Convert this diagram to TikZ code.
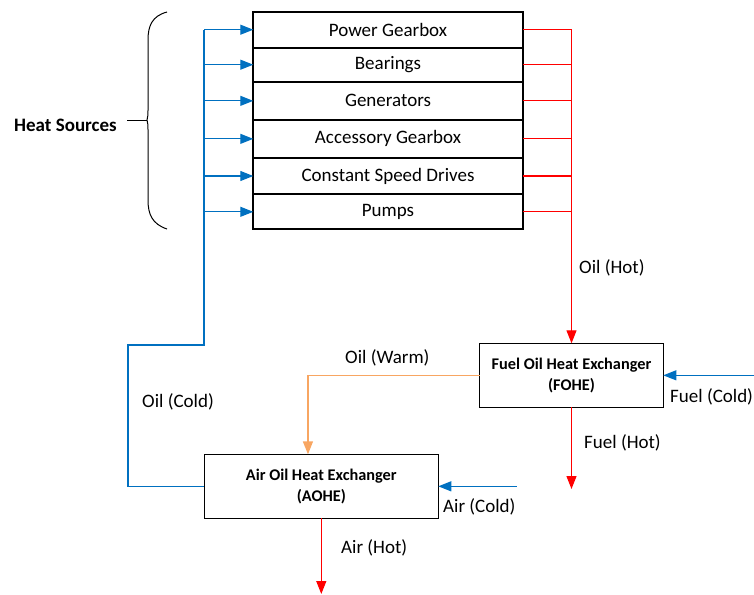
\documentclass[tikz,border=0pt]{standalone}
\usepackage{fontspec}
\setmainfont{Carlito}
\usetikzlibrary{arrows.meta,calc}
\definecolor{cblue}{RGB}{0,112,192}
\definecolor{cred}{RGB}{255,0,0}
\definecolor{corange}{RGB}{248,166,98}
\begin{document}
\begin{tikzpicture}[x=1pt,y=-1pt,
  rowbox/.style={draw=black,line width=2pt,minimum width=269.4pt,anchor=north west,inner sep=0pt,outer sep=0pt,font=\fontsize{19}{22}\selectfont},
  hxbox/.style={draw=black,line width=1pt,align=center,inner sep=0pt,outer sep=0pt,font=\fontsize{16.3}{21}\selectfont\bfseries},
  lbl/.style={anchor=west,inner sep=0pt,font=\fontsize{19}{22}\selectfont},
  tip/.style={-{Triangle[length=13pt,width=10pt]}},
  bl/.style={draw=cblue,line width=1.2pt},
  rd/.style={draw=cred,line width=1.2pt},
  og/.style={draw=corange,line width=1.5pt}]
\useasboundingbox (0,0) rectangle (754,594);
% heat source stack
\node[rowbox,minimum height=36pt] (r1) at (253.3,11.7) {Power Gearbox};
\node[rowbox,minimum height=34pt] (r2) at (r1.south west) {Bearings};
\node[rowbox,minimum height=38.3pt] (r3) at (r2.south west) {Generators};
\node[rowbox,minimum height=37.7pt] (r4) at (r3.south west) {Accessory Gearbox};
\node[rowbox,minimum height=36.6pt] (r5) at (r4.south west) {Constant Speed Drives};
\node[rowbox,minimum height=35pt] (r6) at (r5.south west) {Pumps};
% heat exchangers
\node[hxbox,minimum width=183.6pt,minimum height=64pt] (fohe) at (571.5,375.3) {Fuel Oil Heat Exchanger\\(FOHE)};
\node[hxbox,minimum width=234pt,minimum height=64pt] (aohe) at (321.3,486.3) {Air Oil Heat Exchanger\\(AOHE)};
% brace and heat sources label
\node[anchor=west,inner sep=0pt,font=\fontsize{19}{22}\selectfont\bfseries] (hs) at (14,125) {Heat Sources};
\coordinate (btop) at (167,12);
\coordinate (bbot) at (167,229);
\coordinate (btip) at (147,120);
\draw[line width=1pt] (btop) .. controls (152,16) and (148,26) .. (148,40)
  -- (148,108) .. controls (148,116) .. (btip)
  .. controls (148,124) .. (148,132) -- (148,200)
  .. controls (148,214) and (152,224) .. (bbot);
\draw[line width=1pt] (127,120) -- (btip);
% blue trunk and inlets
\coordinate (bt) at (204,0);
\coordinate (rt) at (571.5,0);
\foreach \r in {r1,r2,r3,r4,r5,r6}{
  \draw[bl,tip] (\r.west -| bt) -- (\r.west);
  \draw[rd] (\r.east) -- (\r.east -| rt);
}
\coordinate (b1) at (204,345);
\coordinate (b2) at (128,345);
\coordinate (b3) at (128,486.3);
\draw[bl] (r1.west -| bt) -- (b1) -- (b2) -- (b3) -- (aohe.west);
% red trunk to FOHE
\draw[rd,tip] (r1.east -| rt) -- (fohe.north);
% fuel
\coordinate (fc) at (754,375.3);
\draw[bl,tip] (fc) -- (fohe.east);
\coordinate (fh) at (571.5,489);
\draw[rd,tip] (fohe.south) -- (fh);
% oil warm
\coordinate (ow) at ($(aohe.north west)!0.443!(aohe.north east)$);
\draw[og,tip] (fohe.west) -| (ow);
% air
\coordinate (ac) at (516.7,486.3);
\draw[bl,tip] (ac) -- (aohe.east);
\coordinate (ah) at (321.3,594);
\draw[rd,tip] (aohe.south) -- (ah);
% labels
\node[lbl] (l1) at (579,268) {Oil (Hot)};
\node[lbl] (l2) at (584,443) {Fuel (Hot)};
\node[lbl] (l3) at (670,397) {Fuel (Cold)};
\node[lbl] (l4) at (345,358) {Oil (Warm)};
\node[lbl] (l5) at (142,402) {Oil (Cold)};
\node[lbl] (l6) at (443,507) {Air (Cold)};
\node[lbl] (l7) at (341,548) {Air (Hot)};
\end{tikzpicture}
\end{document}
